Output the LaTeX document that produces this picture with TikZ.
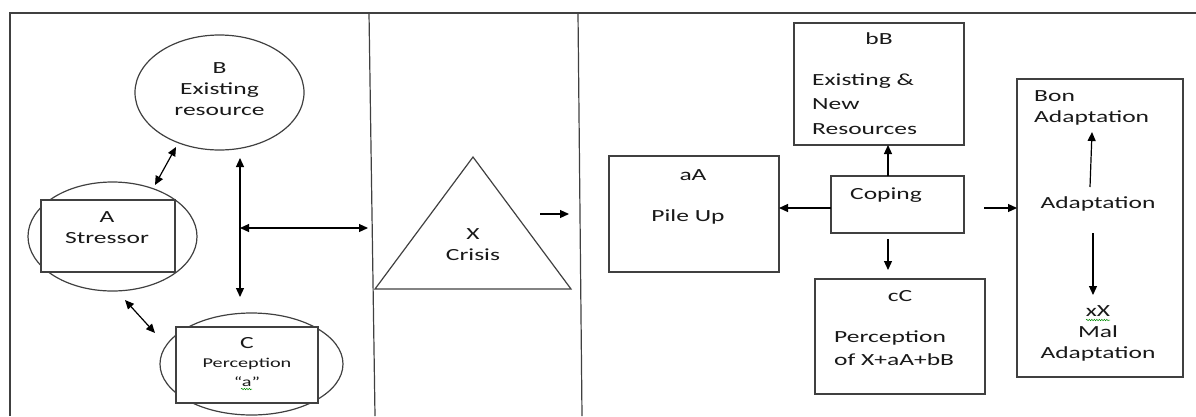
\documentclass[tikz,border=0pt]{standalone}
\usepackage{fontspec}
\setmainfont{Carlito}[FakeStretch=1.5]
\usetikzlibrary{shapes.geometric,arrows.meta,decorations.pathmorphing}
\begin{document}
\begin{tikzpicture}[x=1pt,y=-1pt,
  shp/.style={draw=black!75,line width=1.2pt},
  ell/.style={shp,ellipse,inner sep=0pt},
  box/.style={shp,rectangle,fill=white,inner sep=0pt},
  txt/.style={font=\fontsize{17}{21}\selectfont,text=black!90,inner sep=0pt,anchor=base,align=center},
  ltxt/.style={txt,align=left,anchor=base west},
  arr/.style={draw=black,line width=1.2pt,-{Triangle[length=9pt,width=8pt]}},
  darr/.style={draw=black,line width=1.2pt,{Triangle[length=9pt,width=8pt]}-{Triangle[length=9pt,width=8pt]}},
  squig/.style={draw=green!55!black,line width=0.5pt,decorate,decoration={snake,amplitude=0.7pt,segment length=2.5pt}}]
\useasboundingbox (0,0) rectangle (1196,416);
% frame and dividers
\draw[shp] (10,416) -- (10,13) -- (1196,13);
\draw[shp] (369,13) -- (375,416);
\draw[shp] (578,13) -- (582,416);
% left panel shapes
\node[ell,minimum width=169pt,minimum height=115pt] (B) at (219.5,92.5) {};
\node[ell,minimum width=169pt,minimum height=109pt] (Aell) at (112.5,236.5) {};
\node[box,minimum width=134pt,minimum height=72pt] (A) at (108,236) {};
\node[ell,minimum width=183pt,minimum height=102pt] (Cell) at (251.5,364) {};
\node[box,minimum width=142pt,minimum height=76pt] (C) at (247,365) {};
% (multi-line texts are placed by the baseline of their last line)
\node[txt] (Bt) at (219.5,115) {B\\Existing\\resource};
\node[txt] (At) at (107,243) {A\\Stressor};
\node[txt] (Ct) at (247,348) {C};
\node[txt,font=\fontsize{13.5}{18.5}\selectfont] (Ct2) at (247,386) {Perception\\``a''};
\draw[squig] (241,389) -- (252,389);
% crisis triangle
\coordinate (T1) at (473,157);
\coordinate (T2) at (375,289);
\coordinate (T3) at (571,289);
\draw[shp] (T1) -- (T2) -- (T3) -- cycle;
\node[txt] (X) at (473,260) {X\\Crisis};
% right panel boxes
\node[box,minimum width=170pt,minimum height=116pt] (aA) at (694,214) {};
\node[txt] (aAt) at (693,180) {aA};
\node[txt] (aAt2) at (688,221) {Pile Up};
\node[box,minimum width=170pt,minimum height=122pt] (bB) at (879,84) {};
\node[txt] (bBt) at (879,44) {bB};
\node[ltxt,font=\fontsize{17}{24.5}\selectfont] (bBt2) at (812,134) {Existing \&\\New\\Resources};
\node[box,minimum width=133pt,minimum height=57pt] (cop) at (897.5,204.5) {};
\node[txt] (copt) at (886,199) {Coping};
\node[box,minimum width=170pt,minimum height=115pt] (cC) at (900,336.5) {};
\node[txt] (cCt) at (900,301) {cC};
\node[ltxt,font=\fontsize{17}{23}\selectfont] (cCt2) at (834,365) {Perception\\of X+aA+bB};
\node[box,minimum width=166pt,minimum height=298pt] (ad) at (1100,228) {};
\node[ltxt] (bon) at (1034,122) {Bon\\Adaptation};
\node[txt] (adt) at (1098,208) {Adaptation};
\node[txt] (mal) at (1098,358) {xX\\Mal\\Adaptation};
\draw[squig] (1086,320) -- (1110,320);
% connectors
\coordinate (ab1) at (155,185); \coordinate (ab2) at (176,147);
\draw[darr] (ab1) -- (ab2);
\coordinate (v1) at (240,158); \coordinate (v2) at (240,297);
\draw[darr] (v1) -- (v2);
\coordinate (h1) at (240,228); \coordinate (h2) at (368,228);
\draw[darr] (h1) -- (h2);
\coordinate (ac1) at (125,300); \coordinate (ac2) at (155,333);
\draw[darr] (ac1) -- (ac2);
\coordinate (x1) at (540,214); \coordinate (x2) at (569,214);
\draw[arr] (x1) -- (x2);
\coordinate (c1) at (831,208); \coordinate (c2) at (779,208);
\draw[arr] (c1) -- (c2);
\coordinate (c3) at (888,176); \coordinate (c4) at (888,145);
\draw[arr] (c3) -- (c4);
\coordinate (c5) at (888,239); \coordinate (c6) at (888,270);
\draw[arr] (c5) -- (c6);
\coordinate (c7) at (984,208); \coordinate (c8) at (1017,208);
\draw[arr] (c7) -- (c8);
\coordinate (u1) at (1090,187); \coordinate (u2) at (1092,132);
\draw[arr] (u1) -- (u2);
\coordinate (d1) at (1093,233); \coordinate (d2) at (1093,295);
\draw[arr] (d1) -- (d2);
\end{tikzpicture}
\end{document}
